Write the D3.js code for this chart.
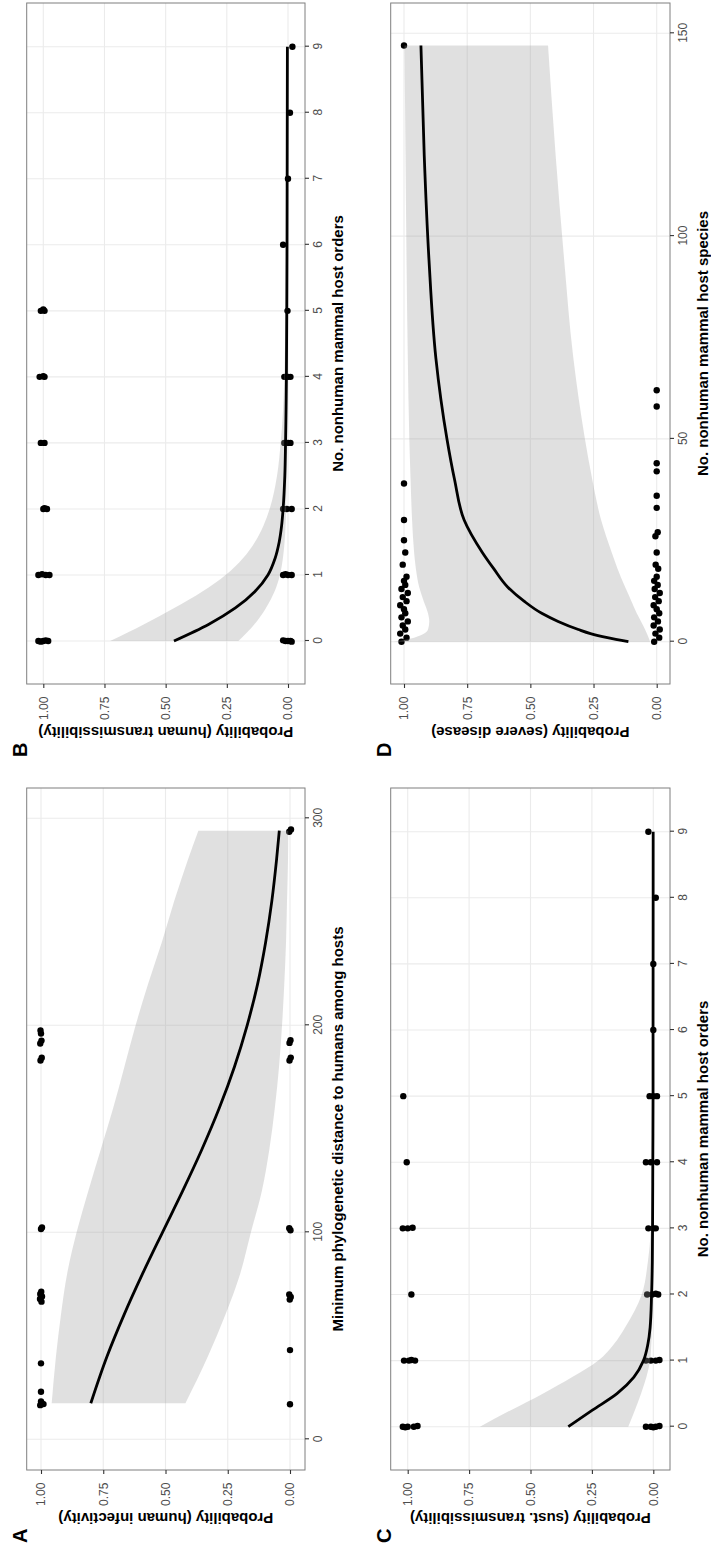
<!DOCTYPE html>
<html>
  <head>
    <script src="https://d3js.org/d3.v7.min.js"></script>
    <style>
      body { margin: 0; background: #fff; }
      text { font-family: "Liberation Sans", Arial, sans-serif; }
    </style>
  </head>
  <body>
    <script>
      // tick values
      var probTicks = [0, 0.25, 0.5, 0.75, 1];
      var distTicks = [0, 100, 200, 300];
      var orderTicks = [0, 1, 2, 3, 4, 5, 6, 7, 8, 9];
      var speciesTicks = [0, 50, 100, 150];

      // A: human infectivity vs phylogenetic distance
      var infDist = [17.4, 40, 60, 80, 100, 120, 140, 160, 180, 200, 220, 240, 260, 280, 294];
      var infFit = [0.80, 0.735, 0.667, 0.592, 0.512, 0.431, 0.354, 0.284, 0.223, 0.172, 0.130, 0.098, 0.073, 0.054, 0.043];
      var infLow = [0.42, 0.33, 0.26, 0.20, 0.157, 0.113, 0.083, 0.061, 0.044, 0.032, 0.023, 0.016, 0.012, 0.008, 0.007];
      var infUpp = [0.957, 0.94, 0.92, 0.895, 0.857, 0.81, 0.76, 0.71, 0.665, 0.62, 0.57, 0.515, 0.465, 0.41, 0.368];
      var infPts = [
        [16.5, 1.003], [17.5, 0.997], [18.3, 1.0], [17, 0.99], [23, 1.0], [36.7, 1.0],
        [66.5, 0.998], [67.8, 1.004], [69, 0.996], [70.2, 1.003], [71.3, 0.999],
        [101.6, 1.0], [102.3, 0.996], [183, 1.002], [184.3, 0.997], [191.2, 1.003],
        [192.6, 0.998], [196, 1.0], [197.5, 1.002],
        [16.9, 0.0], [43.1, 0.0], [67.5, 0.001], [68.8, -0.003], [70, 0.003],
        [101, -0.002], [102, 0.003], [183, 0.002], [184.4, -0.003], [191.5, 0.002],
        [192.8, -0.002], [293.5, 0.003], [294.6, -0.004]
      ];

      // B: human transmissibility vs host orders
      var transOrd = [0, 0.25, 0.5, 0.75, 1, 1.25, 1.5, 1.75, 2, 2.5, 3, 3.5, 4, 5, 6, 7, 8, 9];
      var transFit = [0.466, 0.325, 0.215, 0.135, 0.082, 0.053, 0.036, 0.026, 0.02, 0.013, 0.01, 0.008, 0.0065, 0.005, 0.004, 0.0035, 0.003, 0.0025];
      var transLow = [0.203, 0.138, 0.09, 0.055, 0.033, 0.021, 0.014, 0.01, 0.0075, 0.005, 0.0035, 0.0025, 0.002, 0.0012, 0.001, 0.0008, 0.0006, 0.0005];
      var transUpp = [0.727, 0.59, 0.465, 0.35, 0.255, 0.185, 0.135, 0.10, 0.075, 0.045, 0.03, 0.02, 0.015, 0.01, 0.008, 0.007, 0.006, 0.005];
      var transPts = [
        [0, 1.02], [0, 1.0], [0, 0.98], [0.01, 0.99], [-0.01, 1.01],
        [1, 1.02], [1, 0.99], [1, 0.975], [1.01, 1.005],
        [2, 1.0], [2, 0.985], [2.01, 0.995],
        [3, 1.01], [3, 0.995],
        [4, 1.015], [4, 0.995], [4.01, 1.0],
        [5, 1.01], [5, 0.995], [5.02, 1.0],
        [0, 0.01], [0, -0.01], [0, 0.0], [0.01, 0.02], [-0.01, -0.015],
        [1, 0.02], [1, 0.0], [1, -0.015], [1.01, 0.01],
        [2, 0.02], [2, 0.005], [2, -0.015],
        [3, 0.015], [3, -0.01], [3, 0.0],
        [4, 0.015], [4, 0.0], [4, -0.01],
        [5, 0.002], [6, 0.02], [7, 0.0], [8, -0.008], [9, -0.018]
      ];

      // C: sustained transmissibility vs host orders
      var sustOrd = [0, 0.25, 0.5, 0.75, 1, 1.25, 1.5, 2, 2.5, 3, 4, 5, 6, 7, 8, 9];
      var sustFit = [0.346, 0.248, 0.148, 0.079, 0.04, 0.022, 0.013, 0.007, 0.004, 0.003, 0.002, 0.001, 0.001, 0.0008, 0.0006, 0.0005];
      var sustLow = [0.102, 0.075, 0.05, 0.028, 0.013, 0.008, 0.005, 0.002, 0.001, 0.0005, 0.0003, 0.0002, 0.0001, 0.0001, 0.0001, 0.0001];
      var sustUpp = [0.706, 0.58, 0.45, 0.33, 0.224, 0.16, 0.115, 0.047, 0.022, 0.01, 0.004, 0.002, 0.0015, 0.001, 0.001, 0.001];
      var sustPts = [
        [0, 1.02], [0, 1.0], [0, 0.975], [0.01, 0.96], [-0.01, 1.01],
        [1, 1.015], [1, 0.995], [1, 0.97], [1.01, 0.985],
        [2, 0.985],
        [3, 1.02], [3, 1.0], [3.01, 0.98],
        [4, 1.004], [5, 1.018],
        [0, 0.03], [0, 0.01], [0, -0.01], [0.01, -0.025], [-0.01, 0.0],
        [1, 0.03], [1, 0.01], [1, -0.01], [1.01, -0.025],
        [2, 0.025], [2, 0.005], [2, -0.02], [2.01, -0.01],
        [3, 0.02], [3, -0.01], [3, 0.0],
        [4, 0.03], [4, 0.01], [4, -0.015],
        [5, 0.015], [5, -0.015], [5, 0.0],
        [6, 0.0], [7, 0.0], [8, -0.01], [9, 0.02]
      ];

      // D: severe disease vs host species
      var sevSpp = [0, 1, 2, 3, 5, 7, 10, 13.5, 18, 22, 30, 40, 50, 70, 94, 120, 147];
      var sevFit = [0.112, 0.195, 0.262, 0.31, 0.39, 0.455, 0.525, 0.59, 0.645, 0.69, 0.762, 0.80, 0.83, 0.874, 0.901, 0.92, 0.933];
      var sevLow = [0.026, 0.032, 0.039, 0.046, 0.062, 0.079, 0.10, 0.125, 0.155, 0.178, 0.22, 0.255, 0.284, 0.33, 0.366, 0.40, 0.43];
      var sevUpp = [1.04, 0.96, 0.92, 0.905, 0.90, 0.905, 0.922, 0.94, 0.953, 0.96, 0.968, 0.974, 0.979, 0.985, 0.99, 0.994, 0.998];
      var sevPts = [
        [0, 1.01], [1, 0.99], [2, 1.015], [3, 0.995], [4, 1.005], [5, 0.985], [6, 1.01],
        [7, 0.995], [8, 1.0], [9, 1.015], [10, 0.99], [11, 1.005], [12, 0.985],
        [13, 1.01], [14, 0.995], [15, 1.0], [16, 0.99], [19, 1.005], [22, 0.995],
        [25, 1.0], [30, 1.0], [39, 1.0], [147, 1.0],
        [0, 0.01], [1, -0.01], [2, 0.005], [3, -0.012], [4, 0.012], [5, -0.005],
        [6, 0.01], [7, -0.01], [8, 0.0], [9, 0.012], [10, -0.008], [11, 0.006],
        [12, -0.012], [13, 0.008], [14, -0.004], [15, 0.01], [16, 0.0], [18, -0.006],
        [19, 0.004], [22, 0.0], [26, 0.005], [27, -0.004], [33, 0.0], [36, 0.0],
        [42, 0.0], [44, 0.0], [58, 0.0], [62, 0.0]
      ];

      // figure is drawn landscape, then turned a quarter turn
      var W = 1551, H = 711;
      var svg = d3.select("body").append("svg").attr("width", H).attr("height", W);
      svg.append("rect").attr("width", H).attr("height", W).attr("fill", "#fff");
      var fig = svg.append("g").attr("transform", "translate(0," + W + ") rotate(-90)");

      var panels = [
        { label: "A", x0: 81, x1: 763, y0: 26.7, y1: 305, xDomain: [0, 300], xRange: [111.7, 732.7], yRange: [290, 41],
          xTicks: distTicks, xs: infDist, fit: infFit, low: infLow, upp: infUpp, pts: infPts,
          xTitle: "Minimum phylogenetic distance to humans among hosts", yTitle: "Probability (human infectivity)" },
        { label: "B", x0: 867, x1: 1548, y0: 26.7, y1: 305, xDomain: [0, 9], xRange: [910, 1504.3], yRange: [288, 43.3],
          xTicks: orderTicks, xs: transOrd, fit: transFit, low: transLow, upp: transUpp, pts: transPts,
          xTitle: "No. nonhuman mammal host orders", yTitle: "Probability (human transmissibility)" },
        { label: "C", x0: 81, x1: 763, y0: 390.7, y1: 670, xDomain: [0, 9], xRange: [124.3, 719.3], yRange: [653.3, 407.7],
          xTicks: orderTicks, xs: sustOrd, fit: sustFit, low: sustLow, upp: sustUpp, pts: sustPts,
          xTitle: "No. nonhuman mammal host orders", yTitle: "Probability (sust. transmissibility)" },
        { label: "D", x0: 867, x1: 1548, y0: 390.7, y1: 670, xDomain: [0, 150], xRange: [909.3, 1517.7], yRange: [656.7, 404],
          xTicks: speciesTicks, xs: sevSpp, fit: sevFit, low: sevLow, upp: sevUpp, pts: sevPts,
          xTitle: "No. nonhuman mammal host species", yTitle: "Probability (severe disease)" }
      ];

      panels.forEach(function (p) {
        var g = fig.append("g");
        var x = d3.scaleLinear().domain(p.xDomain).range(p.xRange);
        var y = d3.scaleLinear().domain([0, 1]).range(p.yRange);

        // grid
        g.append("g").selectAll("line").data(p.xTicks).join("line")
          .attr("x1", function (d) { return x(d); }).attr("x2", function (d) { return x(d); })
          .attr("y1", p.y0).attr("y2", p.y1)
          .attr("stroke", "#ebebeb").attr("stroke-width", 1.1);
        g.append("g").selectAll("line").data(probTicks).join("line")
          .attr("y1", function (d) { return y(d); }).attr("y2", function (d) { return y(d); })
          .attr("x1", p.x0).attr("x2", p.x1)
          .attr("stroke", "#ebebeb").attr("stroke-width", 1.1);

        // points
        g.append("g").selectAll("circle").data(p.pts).join("circle")
          .attr("cx", function (d) { return x(d[0]); })
          .attr("cy", function (d) { return y(d[1]); })
          .attr("r", 3.2)
          .attr("fill", "#000");

        var rows = p.xs.map(function (v, i) {
          return { x: v, fit: p.fit[i], low: p.low[i], upp: p.upp[i] };
        });

        // ribbon
        var area = d3.area()
          .x(function (d) { return x(d.x); })
          .y0(function (d) { return y(d.low); })
          .y1(function (d) { return y(d.upp); })
          .curve(d3.curveMonotoneX);
        g.append("path").datum(rows).attr("d", area)
          .attr("fill", "#999999").attr("fill-opacity", 0.3);

        // fitted line
        var line = d3.line()
          .x(function (d) { return x(d.x); })
          .y(function (d) { return y(d.fit); })
          .curve(d3.curveMonotoneX);
        g.append("path").datum(rows).attr("d", line)
          .attr("fill", "none").attr("stroke", "#000").attr("stroke-width", 2.8);

        // border
        g.append("rect").attr("x", p.x0).attr("y", p.y0)
          .attr("width", p.x1 - p.x0).attr("height", p.y1 - p.y0)
          .attr("fill", "none").attr("stroke", "#7f7f7f").attr("stroke-width", 1);

        // axes
        var xa = g.append("g").attr("transform", "translate(0," + p.y1 + ")")
          .call(d3.axisBottom(x).tickValues(p.xTicks).tickFormat(d3.format("d")).tickSize(4).tickPadding(4.7));
        var ya = g.append("g").attr("transform", "translate(" + p.x0 + ",0)")
          .call(d3.axisLeft(y).tickValues(probTicks).tickFormat(d3.format(".2f")).tickSize(4).tickPadding(8.7));
        [xa, ya].forEach(function (a) {
          a.select(".domain").remove();
          a.selectAll(".tick line").attr("stroke", "#333").attr("stroke-width", 1.1);
          a.selectAll(".tick text").attr("fill", "#4d4d4d").style("font-size", "12px")
            .style("font-family", "'Liberation Sans', Arial, sans-serif");
        });

        // titles
        g.append("text")
          .attr("x", (p.x0 + p.x1) / 2).attr("y", p.y1 + 38)
          .attr("text-anchor", "middle")
          .style("font-size", "15px").style("font-weight", "bold")
          .text(p.xTitle);
        g.append("text")
          .attr("transform", "translate(" + (p.x0 - 43) + "," + (p.y0 + p.y1) / 2 + ") rotate(-90)")
          .attr("text-anchor", "middle")
          .style("font-size", "15px").style("font-weight", "bold")
          .text(p.yTitle);
        g.append("text")
          .attr("x", p.x0 - 73).attr("y", p.y0 + 0.5)
          .style("font-size", "20px").style("font-weight", "bold")
          .text(p.label);
      });
    </script>
  </body>
</html>
